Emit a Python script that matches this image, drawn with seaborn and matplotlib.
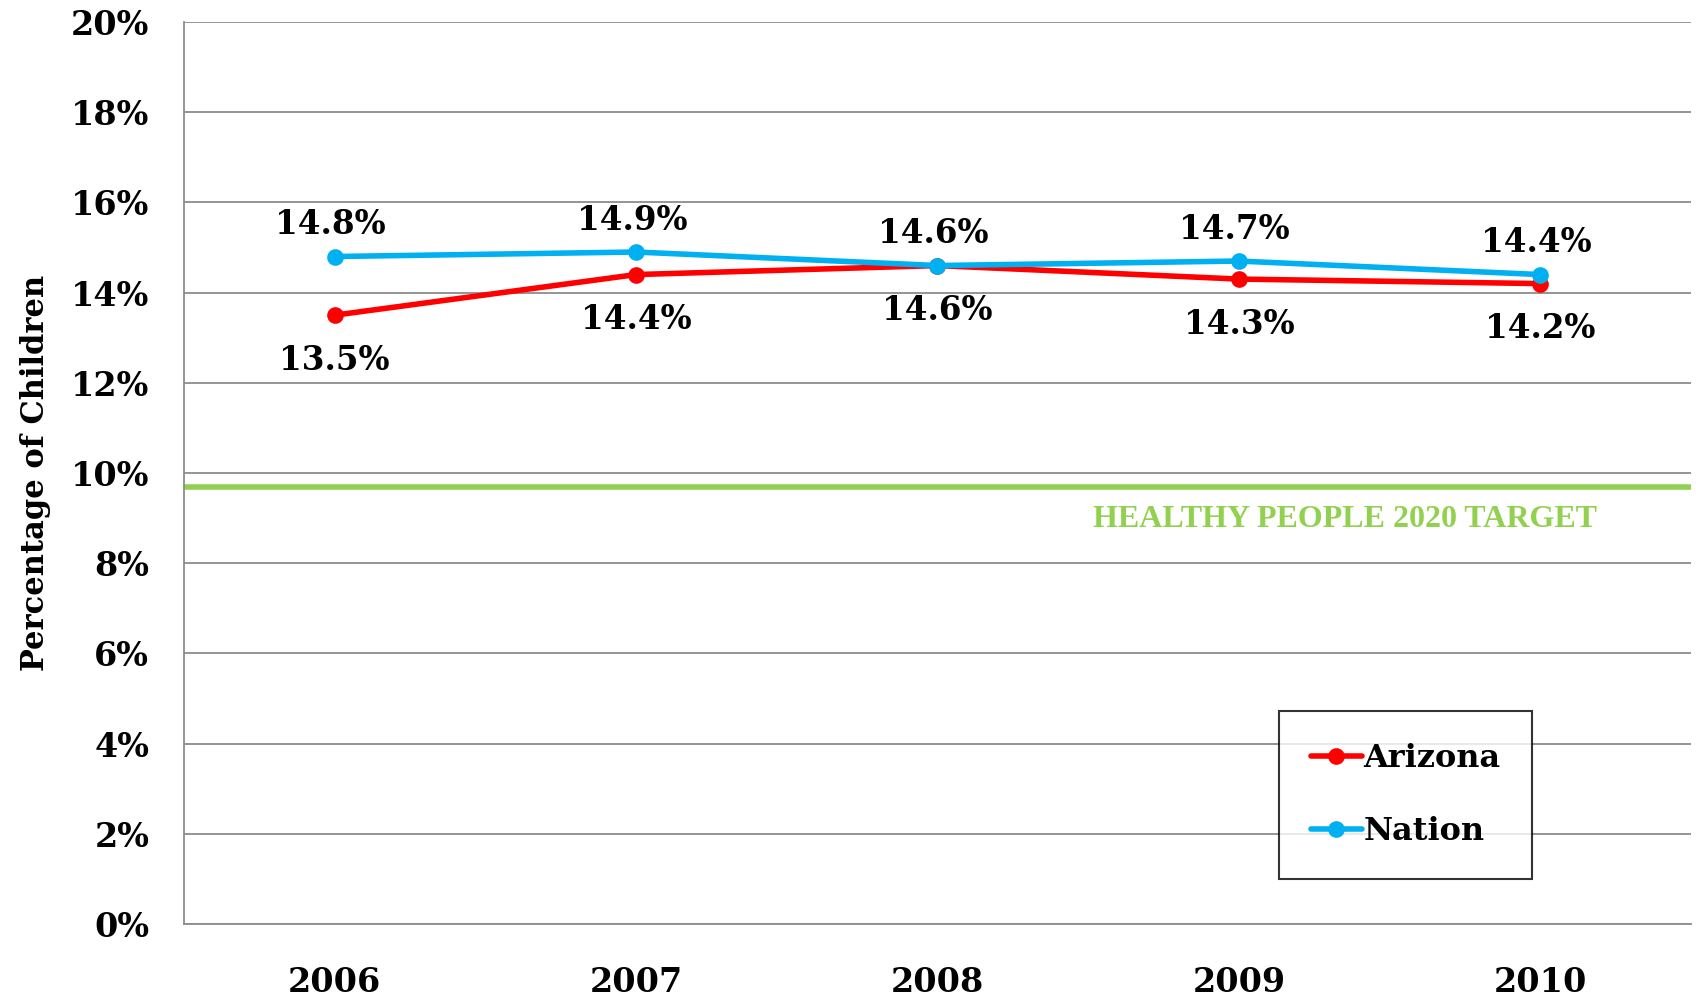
import pandas as pd
import matplotlib.pyplot as plt
import seaborn as sns

years = ['2006', '2007', '2008', '2009', '2010']
arizona = [13.5, 14.4, 14.6, 14.3, 14.2]
nation = [14.8, 14.9, 14.6, 14.7, 14.4]
target = 9.7
series_names = ['Arizona', 'Nation']
colors = {'Arizona': '#FF0000', 'Nation': '#00B0F0'}

sns.set_style('white')
plt.rcParams['font.family'] = ['DejaVu Serif']
plt.rcParams['font.weight'] = 'bold'
plt.rcParams['text.color'] = 'black'
plt.rcParams['xtick.color'] = 'black'
plt.rcParams['ytick.color'] = 'black'
plt.rcParams['axes.labelcolor'] = 'black'

df = pd.DataFrame({'Year': years * 2,
                   'Series': ['Arizona'] * 5 + ['Nation'] * 5,
                   'Value': arizona + nation})

fig = plt.figure(figsize=(16.96, 9.98), dpi=100)
ax = fig.add_axes([0.1085, 0.074, 0.8885, 0.904])

ax.axhline(target, color='#92D050', lw=4, zorder=1)

sns.lineplot(data=df, x='Year', y='Value', hue='Series', palette=colors,
             hue_order=series_names, marker='o', markersize=12, markeredgewidth=0,
             linewidth=4, ax=ax, zorder=3)

# data labels: Nation above, Arizona below
for i, v in enumerate(nation):
    ax.annotate(f'{v:.1f}%', (i, v), xytext=(-3, 23), textcoords='offset points',
                ha='center', va='center', fontsize=23.5, fontweight='bold')
for i, v in enumerate(arizona):
    ax.annotate(f'{v:.1f}%', (i, v), xytext=(0, -32.5), textcoords='offset points',
                ha='center', va='center', fontsize=23.5, fontweight='bold')

ax.annotate('HEALTHY PEOPLE 2020 TARGET', (4.19, target), xytext=(0, -24),
            textcoords='offset points', ha='right', va='center', color='#92D050',
            fontsize=23, fontweight='bold', family=['Liberation Serif'])

ax.set_xlim(-0.5, 4.5)
ax.set_ylim(0, 20)
ax.set_yticks(range(0, 21, 2))
ax.set_yticklabels([f'{t}%' for t in range(0, 21, 2)])
ax.yaxis.grid(True, color='#8C8C8C', lw=1.3)
ax.set_axisbelow(True)
ax.tick_params(axis='y', length=0, pad=25, labelsize=24)
ax.tick_params(axis='x', length=0, pad=30, labelsize=24)
for lab in ax.get_xticklabels() + ax.get_yticklabels():
    lab.set_fontweight('bold')
for s in ['top', 'right']:
    ax.spines[s].set_visible(False)
for s in ['left', 'bottom']:
    ax.spines[s].set_color('#8C8C8C')
    ax.spines[s].set_linewidth(1.3)

ax.set_xlabel('')
ax.set_ylabel('Percentage of Children', fontsize=22, fontweight='bold', labelpad=14)

leg = ax.legend(loc='lower left', bbox_to_anchor=(0.7265, 0.0504),
                borderaxespad=0, frameon=True, fancybox=False, handlelength=1.6,
                handletextpad=0.05, labelspacing=1.3, borderpad=1.0,
                prop={'size': 23, 'weight': 'bold'})
leg.get_frame().set_edgecolor('black')
leg.get_frame().set_linewidth(1.5)

fig.savefig('out.png', dpi=100)
